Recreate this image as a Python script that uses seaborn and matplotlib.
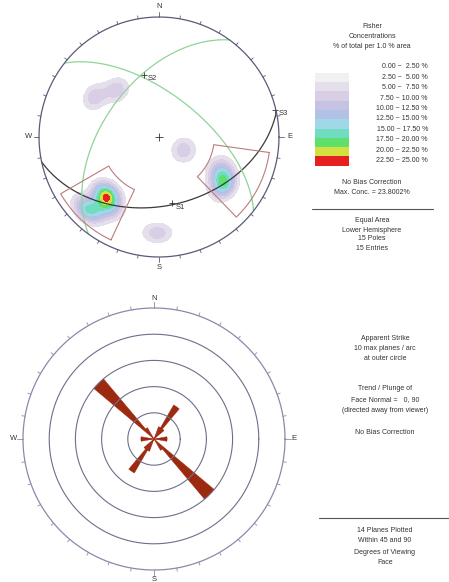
import numpy as np
import matplotlib
matplotlib.use('Agg')
import matplotlib.pyplot as plt
from matplotlib.patches import Wedge, Rectangle
import seaborn as sns

sns.set_theme(style='white')
plt.rcParams['font.family'] = ['Liberation Sans', 'DejaVu Sans']

# ---- stereonet data ----
# poles as trend / plunge (deg), lower hemisphere
pole_trend = [222, 222, 222, 215, 221, 224, 225,
              123, 125, 128, 118,
              302, 318, 118, 181]
pole_plunge = [35, 35, 35, 29, 23, 17, 14,
               37, 35, 31, 43,
               37, 46, 71, 21]

# planes as dip direction / dip
plane_dipdir = [168, 38, 306]
plane_dip = [42, 61, 52]
plane_colors = ['#3a3a3a', '#8fd49a', '#8fd49a']

# labelled points
s_labels = ['S1', 'S2', 'S3']
s_trend = [169, 346, 77]
s_plunge = [43, 46, 1]

# trend / plunge windows
win_trend = [(205, 240), (98, 136)]
win_plunge = [(6, 50), (8, 52)]

# contour legend
level_edges = [0, 2.5, 5, 7.5, 10, 12.5, 15, 17.5, 20, 22.5, 25]
level_colors = ['#f1f0f3', '#e5dfeb', '#d8cee6', '#c6c2e2', '#b2c2e6',
                '#a0d8e8', '#70dcc0', '#5fe06c', '#d2e040', '#e62020']

# ---- rose data: strike bins (centre deg) and plane counts ----
rose_bins = [315, 35, 25, 45, 85, 95, 325]
rose_counts = [6, 3, 1, 1, 1, 1, 1]
rose_max = 10


def project(trend, plunge):
    t = np.radians(trend)
    r = np.sqrt(2) * np.sin(np.radians(90 - np.asarray(plunge, dtype=float)) / 2)
    return r * np.sin(t), r * np.cos(t)


def great_circle(dd, dip):
    az = np.linspace(dd - 90, dd + 90, 181)
    app = np.degrees(np.arctan(np.tan(np.radians(dip)) * np.cos(np.radians(az - dd))))
    return project(az, np.clip(app, 0, 90))


def window(t, p):
    t1, t2 = t
    p1, p2 = p
    tt = np.concatenate([np.linspace(t1, t2, 30), np.full(30, t2),
                         np.linspace(t2, t1, 30), np.full(30, t1)])
    pp = np.concatenate([np.full(30, p1), np.linspace(p1, p2, 30),
                         np.full(30, p2), np.linspace(p2, p1, 30)])
    return project(tt, pp)


def vec(trend, plunge):
    t = np.radians(trend)
    p = np.radians(plunge)
    return np.stack([np.cos(p) * np.sin(t), np.cos(p) * np.cos(t), np.sin(p)], axis=-1)


W, H = 449, 582
fig = plt.figure(figsize=(W / 100, H / 100), dpi=100)


def add_ax(cx, cy, R, half=1.12):
    s = half * R
    ax = fig.add_axes([(cx - s) / W, (H - cy - s) / H, 2 * s / W, 2 * s / H])
    ax.set_xlim(-half, half)
    ax.set_ylim(-half, half)
    ax.set_aspect('equal')
    ax.axis('off')
    return ax


circ = np.linspace(0, 2 * np.pi, 361)


def rim(ax, col, lab_pad):
    ax.plot(np.cos(circ), np.sin(circ), color=col, lw=0.9)
    for a in range(0, 360, 10):
        r2 = 1.045 if a % 90 == 0 else 1.025
        s, c = np.sin(np.radians(a)), np.cos(np.radians(a))
        ax.plot([s, r2 * s], [c, r2 * c], color=col, lw=0.6)
    for a, lab in zip([0, 90, 180, 270], ['N', 'E', 'S', 'W']):
        s, c = np.sin(np.radians(a)), np.cos(np.radians(a))
        ax.text(lab_pad * s, lab_pad * c, lab, ha='center', va='center',
                fontsize=5.5, color='#333333', clip_on=False)


# ---------------- stereonet ----------------
ax1 = add_ax(159, 137, 120)

# Fisher concentration (% of total per 1% area), K = 100
g = np.linspace(-1, 1, 401)
X, Y = np.meshgrid(g, g)
Rr = np.hypot(X, Y)
inside = Rr <= 1
gpl = 90 - 2 * np.degrees(np.arcsin(np.clip(Rr, 0, 1) / np.sqrt(2)))
gtr = np.degrees(np.arctan2(X, Y))
gv = vec(gtr, gpl)
pv = vec(np.array(pole_trend), np.array(pole_plunge))
k = 100.0
cosang = np.abs(gv @ pv.T)
dens = (100.0 / len(pole_trend)) * (k / 100.0) * np.exp(k * (cosang - 1)).sum(axis=-1)
dens = np.where(inside, dens, np.nan)
ax1.contourf(X, Y, dens, levels=level_edges[1:], colors=level_colors[1:], extend='max')

for dd, dp, col in zip(plane_dipdir, plane_dip, plane_colors):
    x, y = great_circle(dd, dp)
    ax1.plot(x, y, color=col, lw=0.9)

for t, p in zip(win_trend, win_plunge):
    x, y = window(t, p)
    ax1.plot(x, y, color='#bc7c7c', lw=0.8)

sx, sy = project(s_trend, s_plunge)
for lab, x, y in zip(s_labels, sx, sy):
    ax1.plot(x, y, marker='+', ms=4, mew=0.6, color='#333333')
    ax1.text(x + 0.03, y - 0.03, lab, fontsize=5.5, color='#333333', va='center')

ax1.plot(0, 0, marker='+', ms=6, mew=0.6, color='#333333')
rim(ax1, '#5a5a7a', 1.09)

# ---------------- rose ----------------
ax2 = add_ax(154, 439, 131)
for f in [0.2, 0.4, 0.6, 0.8]:
    ax2.plot(f * np.cos(circ), f * np.sin(circ), color='#6e6e8c', lw=0.8)
for b, c in zip(rose_bins, rose_counts):
    for a in (b, b + 180):
        th = 90 - a
        ax2.add_patch(Wedge((0, 0), c / rose_max, th - 5, th + 5,
                            facecolor='#9c2a10', edgecolor='#9c2a10', lw=0.3))
rim(ax2, '#8a8aaa', 1.07)

# ---------------- text panel ----------------
ax3 = fig.add_axes([0, 0, 1, 1])
ax3.set_xlim(0, W)
ax3.set_ylim(H, 0)
ax3.axis('off')
tc = '#333333'
fs = 5


def lines(x, ys, texts):
    for y, t in zip(ys, texts):
        ax3.text(x, y, t, ha='center', va='center', fontsize=fs, color=tc)


lines(372, [27, 37, 47], ['Fisher', 'Concentrations', '% of total per 1.0 % area'])
sw_top, sw_h = 72.7, 9.3
lab_y = np.linspace(66.7, 160.7, 10)
for i in range(10):
    ax3.add_patch(Rectangle((315, sw_top + i * sw_h), 34, sw_h,
                            facecolor=level_colors[i], edgecolor='none'))
    lo, hi = level_edges[i], level_edges[i + 1]
    ax3.text(428, lab_y[i], f'{lo:.2f} ~ {hi:5.2f} %', ha='right', va='center',
             fontsize=fs, color=tc)
lines(372, [183, 193], ['No Bias Correction', 'Max. Conc. = 23.8002%'])
ax3.plot([312, 433], [209, 209], color='#555555', lw=0.8)
lines(372, [220, 230, 239, 248], ['Equal Area', 'Lower Hemisphere', '15 Poles', '15 Entries'])

lines(385, [338, 349, 359], ['Apparent Strike', '10 max planes / arc', 'at outer circle'])
lines(385, [389, 400, 410], ['Trend / Plunge of', 'Face Normal =   0, 90',
                             '(directed away from viewer)'])
lines(385, [433], ['No Bias Correction'])
ax3.plot([319, 449], [518, 518], color='#555555', lw=0.8)
lines(385, [530, 541, 552, 562], ['14 Planes Plotted', 'Within 45 and 90',
                                  'Degrees of Viewing', 'Face'])

fig.savefig('out.png', dpi=100)
